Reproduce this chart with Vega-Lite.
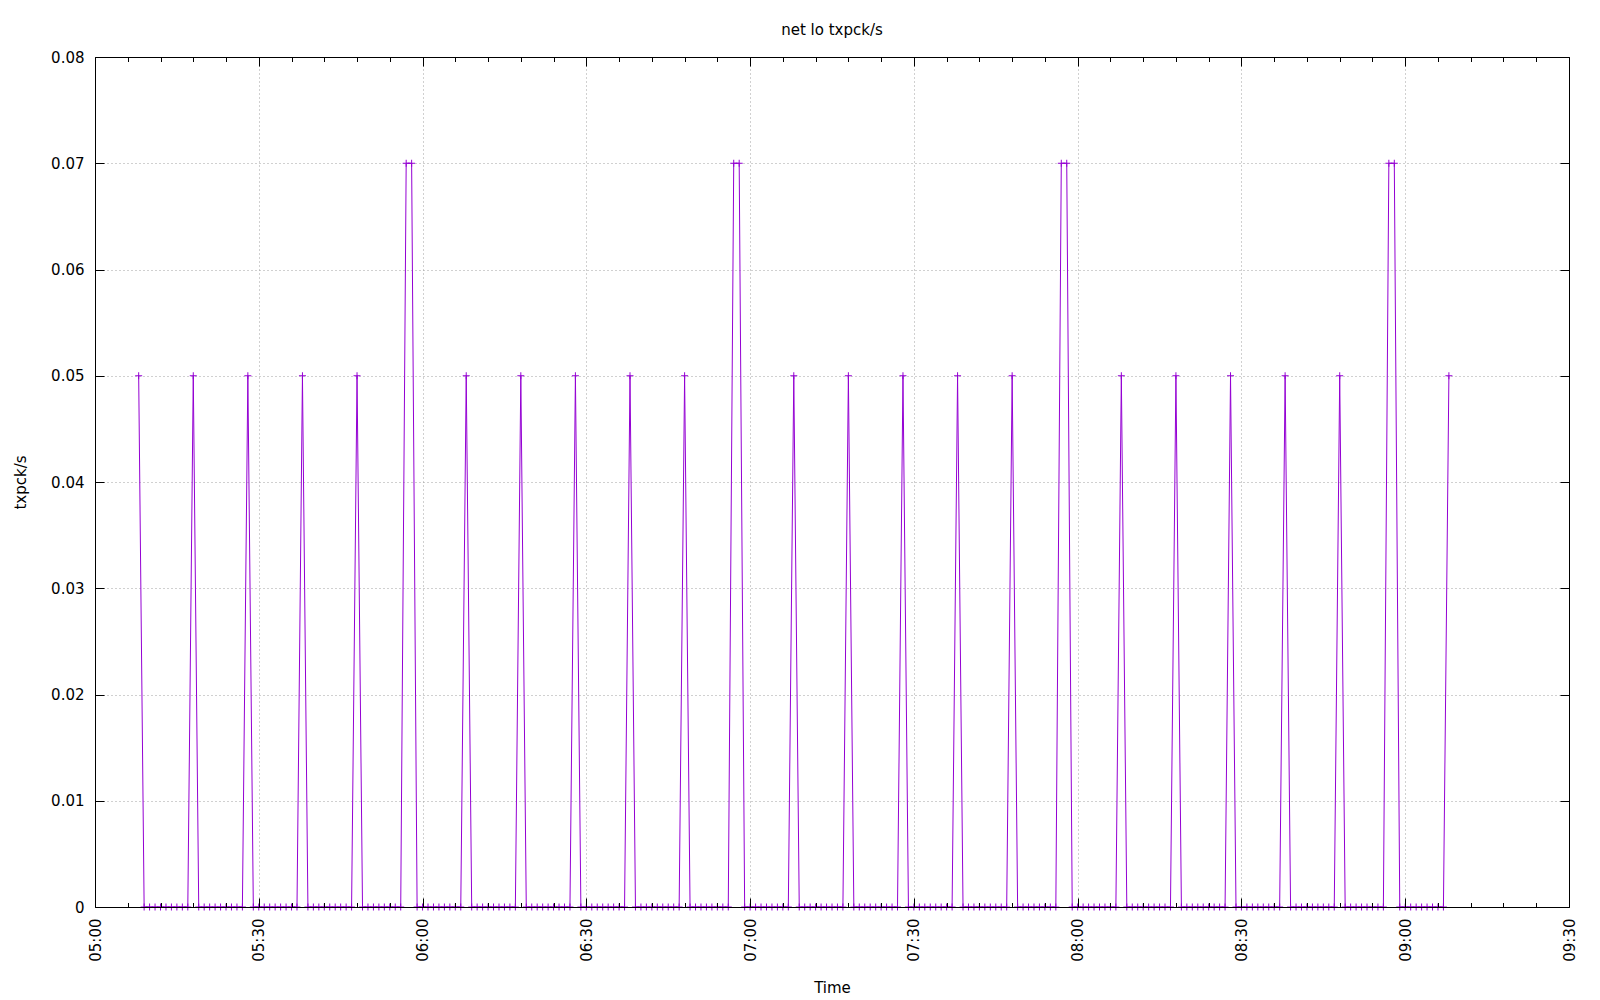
{
  "width": 1474,
  "height": 850,
  "autosize": {"type": "none"},
  "padding": {"left": 95, "top": 57, "right": 31, "bottom": 93},
  "config": {
    "view": {"stroke": "transparent"},
    "axis": {"labelFont": "DejaVu Sans", "titleFont": "DejaVu Sans", "labelColor": "black", "titleColor": "black", "labelFontSize": 15, "titleFontSize": 15, "titleFontWeight": "normal"}
  },
  "title": {"text": "net lo txpck/s", "font": "DejaVu Sans", "fontSize": 15, "fontWeight": "normal", "color": "black", "offset": 12},
  "data": {
    "values": [
      {"t":"2024-01-01T05:08:00Z","v":0.05},{"t":"2024-01-01T05:09:00Z","v":0},{"t":"2024-01-01T05:10:00Z","v":0},{"t":"2024-01-01T05:11:00Z","v":0},{"t":"2024-01-01T05:12:00Z","v":0},{"t":"2024-01-01T05:13:00Z","v":0},{"t":"2024-01-01T05:14:00Z","v":0},{"t":"2024-01-01T05:15:00Z","v":0},{"t":"2024-01-01T05:16:00Z","v":0},{"t":"2024-01-01T05:17:00Z","v":0},
      {"t":"2024-01-01T05:18:00Z","v":0.05},{"t":"2024-01-01T05:19:00Z","v":0},{"t":"2024-01-01T05:20:00Z","v":0},{"t":"2024-01-01T05:21:00Z","v":0},{"t":"2024-01-01T05:22:00Z","v":0},{"t":"2024-01-01T05:23:00Z","v":0},{"t":"2024-01-01T05:24:00Z","v":0},{"t":"2024-01-01T05:25:00Z","v":0},{"t":"2024-01-01T05:26:00Z","v":0},{"t":"2024-01-01T05:27:00Z","v":0},
      {"t":"2024-01-01T05:28:00Z","v":0.05},{"t":"2024-01-01T05:29:00Z","v":0},{"t":"2024-01-01T05:30:00Z","v":0},{"t":"2024-01-01T05:31:00Z","v":0},{"t":"2024-01-01T05:32:00Z","v":0},{"t":"2024-01-01T05:33:00Z","v":0},{"t":"2024-01-01T05:34:00Z","v":0},{"t":"2024-01-01T05:35:00Z","v":0},{"t":"2024-01-01T05:36:00Z","v":0},{"t":"2024-01-01T05:37:00Z","v":0},
      {"t":"2024-01-01T05:38:00Z","v":0.05},{"t":"2024-01-01T05:39:00Z","v":0},{"t":"2024-01-01T05:40:00Z","v":0},{"t":"2024-01-01T05:41:00Z","v":0},{"t":"2024-01-01T05:42:00Z","v":0},{"t":"2024-01-01T05:43:00Z","v":0},{"t":"2024-01-01T05:44:00Z","v":0},{"t":"2024-01-01T05:45:00Z","v":0},{"t":"2024-01-01T05:46:00Z","v":0},{"t":"2024-01-01T05:47:00Z","v":0},
      {"t":"2024-01-01T05:48:00Z","v":0.05},{"t":"2024-01-01T05:49:00Z","v":0},{"t":"2024-01-01T05:50:00Z","v":0},{"t":"2024-01-01T05:51:00Z","v":0},{"t":"2024-01-01T05:52:00Z","v":0},{"t":"2024-01-01T05:53:00Z","v":0},{"t":"2024-01-01T05:54:00Z","v":0},{"t":"2024-01-01T05:55:00Z","v":0},{"t":"2024-01-01T05:56:00Z","v":0},
      {"t":"2024-01-01T05:57:00Z","v":0.07},{"t":"2024-01-01T05:58:00Z","v":0.07},{"t":"2024-01-01T05:59:00Z","v":0},
      {"t":"2024-01-01T06:00:00Z","v":0},{"t":"2024-01-01T06:01:00Z","v":0},{"t":"2024-01-01T06:02:00Z","v":0},{"t":"2024-01-01T06:03:00Z","v":0},{"t":"2024-01-01T06:04:00Z","v":0},{"t":"2024-01-01T06:05:00Z","v":0},{"t":"2024-01-01T06:06:00Z","v":0},{"t":"2024-01-01T06:07:00Z","v":0},
      {"t":"2024-01-01T06:08:00Z","v":0.05},{"t":"2024-01-01T06:09:00Z","v":0},{"t":"2024-01-01T06:10:00Z","v":0},{"t":"2024-01-01T06:11:00Z","v":0},{"t":"2024-01-01T06:12:00Z","v":0},{"t":"2024-01-01T06:13:00Z","v":0},{"t":"2024-01-01T06:14:00Z","v":0},{"t":"2024-01-01T06:15:00Z","v":0},{"t":"2024-01-01T06:16:00Z","v":0},{"t":"2024-01-01T06:17:00Z","v":0},
      {"t":"2024-01-01T06:18:00Z","v":0.05},{"t":"2024-01-01T06:19:00Z","v":0},{"t":"2024-01-01T06:20:00Z","v":0},{"t":"2024-01-01T06:21:00Z","v":0},{"t":"2024-01-01T06:22:00Z","v":0},{"t":"2024-01-01T06:23:00Z","v":0},{"t":"2024-01-01T06:24:00Z","v":0},{"t":"2024-01-01T06:25:00Z","v":0},{"t":"2024-01-01T06:26:00Z","v":0},{"t":"2024-01-01T06:27:00Z","v":0},
      {"t":"2024-01-01T06:28:00Z","v":0.05},{"t":"2024-01-01T06:29:00Z","v":0},{"t":"2024-01-01T06:30:00Z","v":0},{"t":"2024-01-01T06:31:00Z","v":0},{"t":"2024-01-01T06:32:00Z","v":0},{"t":"2024-01-01T06:33:00Z","v":0},{"t":"2024-01-01T06:34:00Z","v":0},{"t":"2024-01-01T06:35:00Z","v":0},{"t":"2024-01-01T06:36:00Z","v":0},{"t":"2024-01-01T06:37:00Z","v":0},
      {"t":"2024-01-01T06:38:00Z","v":0.05},{"t":"2024-01-01T06:39:00Z","v":0},{"t":"2024-01-01T06:40:00Z","v":0},{"t":"2024-01-01T06:41:00Z","v":0},{"t":"2024-01-01T06:42:00Z","v":0},{"t":"2024-01-01T06:43:00Z","v":0},{"t":"2024-01-01T06:44:00Z","v":0},{"t":"2024-01-01T06:45:00Z","v":0},{"t":"2024-01-01T06:46:00Z","v":0},{"t":"2024-01-01T06:47:00Z","v":0},
      {"t":"2024-01-01T06:48:00Z","v":0.05},{"t":"2024-01-01T06:49:00Z","v":0},{"t":"2024-01-01T06:50:00Z","v":0},{"t":"2024-01-01T06:51:00Z","v":0},{"t":"2024-01-01T06:52:00Z","v":0},{"t":"2024-01-01T06:53:00Z","v":0},{"t":"2024-01-01T06:54:00Z","v":0},{"t":"2024-01-01T06:55:00Z","v":0},{"t":"2024-01-01T06:56:00Z","v":0},
      {"t":"2024-01-01T06:57:00Z","v":0.07},{"t":"2024-01-01T06:58:00Z","v":0.07},{"t":"2024-01-01T06:59:00Z","v":0},
      {"t":"2024-01-01T07:00:00Z","v":0},{"t":"2024-01-01T07:01:00Z","v":0},{"t":"2024-01-01T07:02:00Z","v":0},{"t":"2024-01-01T07:03:00Z","v":0},{"t":"2024-01-01T07:04:00Z","v":0},{"t":"2024-01-01T07:05:00Z","v":0},{"t":"2024-01-01T07:06:00Z","v":0},{"t":"2024-01-01T07:07:00Z","v":0},
      {"t":"2024-01-01T07:08:00Z","v":0.05},{"t":"2024-01-01T07:09:00Z","v":0},{"t":"2024-01-01T07:10:00Z","v":0},{"t":"2024-01-01T07:11:00Z","v":0},{"t":"2024-01-01T07:12:00Z","v":0},{"t":"2024-01-01T07:13:00Z","v":0},{"t":"2024-01-01T07:14:00Z","v":0},{"t":"2024-01-01T07:15:00Z","v":0},{"t":"2024-01-01T07:16:00Z","v":0},{"t":"2024-01-01T07:17:00Z","v":0},
      {"t":"2024-01-01T07:18:00Z","v":0.05},{"t":"2024-01-01T07:19:00Z","v":0},{"t":"2024-01-01T07:20:00Z","v":0},{"t":"2024-01-01T07:21:00Z","v":0},{"t":"2024-01-01T07:22:00Z","v":0},{"t":"2024-01-01T07:23:00Z","v":0},{"t":"2024-01-01T07:24:00Z","v":0},{"t":"2024-01-01T07:25:00Z","v":0},{"t":"2024-01-01T07:26:00Z","v":0},{"t":"2024-01-01T07:27:00Z","v":0},
      {"t":"2024-01-01T07:28:00Z","v":0.05},{"t":"2024-01-01T07:29:00Z","v":0},{"t":"2024-01-01T07:30:00Z","v":0},{"t":"2024-01-01T07:31:00Z","v":0},{"t":"2024-01-01T07:32:00Z","v":0},{"t":"2024-01-01T07:33:00Z","v":0},{"t":"2024-01-01T07:34:00Z","v":0},{"t":"2024-01-01T07:35:00Z","v":0},{"t":"2024-01-01T07:36:00Z","v":0},{"t":"2024-01-01T07:37:00Z","v":0},
      {"t":"2024-01-01T07:38:00Z","v":0.05},{"t":"2024-01-01T07:39:00Z","v":0},{"t":"2024-01-01T07:40:00Z","v":0},{"t":"2024-01-01T07:41:00Z","v":0},{"t":"2024-01-01T07:42:00Z","v":0},{"t":"2024-01-01T07:43:00Z","v":0},{"t":"2024-01-01T07:44:00Z","v":0},{"t":"2024-01-01T07:45:00Z","v":0},{"t":"2024-01-01T07:46:00Z","v":0},{"t":"2024-01-01T07:47:00Z","v":0},
      {"t":"2024-01-01T07:48:00Z","v":0.05},{"t":"2024-01-01T07:49:00Z","v":0},{"t":"2024-01-01T07:50:00Z","v":0},{"t":"2024-01-01T07:51:00Z","v":0},{"t":"2024-01-01T07:52:00Z","v":0},{"t":"2024-01-01T07:53:00Z","v":0},{"t":"2024-01-01T07:54:00Z","v":0},{"t":"2024-01-01T07:55:00Z","v":0},{"t":"2024-01-01T07:56:00Z","v":0},
      {"t":"2024-01-01T07:57:00Z","v":0.07},{"t":"2024-01-01T07:58:00Z","v":0.07},{"t":"2024-01-01T07:59:00Z","v":0},
      {"t":"2024-01-01T08:00:00Z","v":0},{"t":"2024-01-01T08:01:00Z","v":0},{"t":"2024-01-01T08:02:00Z","v":0},{"t":"2024-01-01T08:03:00Z","v":0},{"t":"2024-01-01T08:04:00Z","v":0},{"t":"2024-01-01T08:05:00Z","v":0},{"t":"2024-01-01T08:06:00Z","v":0},{"t":"2024-01-01T08:07:00Z","v":0},
      {"t":"2024-01-01T08:08:00Z","v":0.05},{"t":"2024-01-01T08:09:00Z","v":0},{"t":"2024-01-01T08:10:00Z","v":0},{"t":"2024-01-01T08:11:00Z","v":0},{"t":"2024-01-01T08:12:00Z","v":0},{"t":"2024-01-01T08:13:00Z","v":0},{"t":"2024-01-01T08:14:00Z","v":0},{"t":"2024-01-01T08:15:00Z","v":0},{"t":"2024-01-01T08:16:00Z","v":0},{"t":"2024-01-01T08:17:00Z","v":0},
      {"t":"2024-01-01T08:18:00Z","v":0.05},{"t":"2024-01-01T08:19:00Z","v":0},{"t":"2024-01-01T08:20:00Z","v":0},{"t":"2024-01-01T08:21:00Z","v":0},{"t":"2024-01-01T08:22:00Z","v":0},{"t":"2024-01-01T08:23:00Z","v":0},{"t":"2024-01-01T08:24:00Z","v":0},{"t":"2024-01-01T08:25:00Z","v":0},{"t":"2024-01-01T08:26:00Z","v":0},{"t":"2024-01-01T08:27:00Z","v":0},
      {"t":"2024-01-01T08:28:00Z","v":0.05},{"t":"2024-01-01T08:29:00Z","v":0},{"t":"2024-01-01T08:30:00Z","v":0},{"t":"2024-01-01T08:31:00Z","v":0},{"t":"2024-01-01T08:32:00Z","v":0},{"t":"2024-01-01T08:33:00Z","v":0},{"t":"2024-01-01T08:34:00Z","v":0},{"t":"2024-01-01T08:35:00Z","v":0},{"t":"2024-01-01T08:36:00Z","v":0},{"t":"2024-01-01T08:37:00Z","v":0},
      {"t":"2024-01-01T08:38:00Z","v":0.05},{"t":"2024-01-01T08:39:00Z","v":0},{"t":"2024-01-01T08:40:00Z","v":0},{"t":"2024-01-01T08:41:00Z","v":0},{"t":"2024-01-01T08:42:00Z","v":0},{"t":"2024-01-01T08:43:00Z","v":0},{"t":"2024-01-01T08:44:00Z","v":0},{"t":"2024-01-01T08:45:00Z","v":0},{"t":"2024-01-01T08:46:00Z","v":0},{"t":"2024-01-01T08:47:00Z","v":0},
      {"t":"2024-01-01T08:48:00Z","v":0.05},{"t":"2024-01-01T08:49:00Z","v":0},{"t":"2024-01-01T08:50:00Z","v":0},{"t":"2024-01-01T08:51:00Z","v":0},{"t":"2024-01-01T08:52:00Z","v":0},{"t":"2024-01-01T08:53:00Z","v":0},{"t":"2024-01-01T08:54:00Z","v":0},{"t":"2024-01-01T08:55:00Z","v":0},{"t":"2024-01-01T08:56:00Z","v":0},
      {"t":"2024-01-01T08:57:00Z","v":0.07},{"t":"2024-01-01T08:58:00Z","v":0.07},{"t":"2024-01-01T08:59:00Z","v":0},
      {"t":"2024-01-01T09:00:00Z","v":0},{"t":"2024-01-01T09:01:00Z","v":0},{"t":"2024-01-01T09:02:00Z","v":0},{"t":"2024-01-01T09:03:00Z","v":0},{"t":"2024-01-01T09:04:00Z","v":0},{"t":"2024-01-01T09:05:00Z","v":0},{"t":"2024-01-01T09:06:00Z","v":0},{"t":"2024-01-01T09:07:00Z","v":0},
      {"t":"2024-01-01T09:08:00Z","v":0.05}
    ]
  },
  "layer": [
    {
      "mark": {"type": "line", "color": "#9400d3", "strokeWidth": 1},
      "encoding": {
        "x": {
          "field": "t", "type": "temporal",
          "scale": {"type": "utc", "domain": [1704085200000, 1704101400000], "nice": false},
          "axis": {"orient": "bottom", "format": "%H:%M", "labelAngle": 270, "values": [1704085200000, 1704087000000, 1704088800000, 1704090600000, 1704092400000, 1704094200000, 1704096000000, 1704097800000, 1704099600000, 1704101400000], "ticks": false, "domain": false, "grid": true, "gridColor": "#a0a0a0", "gridDash": [1, 3], "labelPadding": 11, "labelFlush": false, "labelOverlap": false, "title": "Time", "titleY": 85, "titleBaseline": "alphabetic"}
        },
        "y": {
          "field": "v", "type": "quantitative",
          "scale": {"domain": [0, 0.08], "nice": false},
          "axis": {"orient": "left", "values": [0, 0.01, 0.02, 0.03, 0.04, 0.05, 0.06, 0.07, 0.08], "format": ".2~f", "ticks": false, "domain": false, "grid": true, "gridColor": "#a0a0a0", "gridDash": [1, 3], "labelPadding": 11, "labelFlush": false, "labelOverlap": false, "title": "txpck/s", "titleX": -75, "titleY": 425, "titleAngle": 270, "titleAlign": "center", "titleBaseline": "middle"}
        }
      }
    },
    {
      "mark": {"type": "point", "shape": "M-1,0L1,0M0,-1L0,1", "size": 49, "filled": false, "color": "#9400d3", "strokeWidth": 1, "opacity": 1},
      "encoding": {
        "x": {
          "field": "t", "type": "temporal",
          "axis": {"orient": "top", "labels": false, "title": null, "grid": false, "values": [1704085200000, 1704087000000, 1704088800000, 1704090600000, 1704092400000, 1704094200000, 1704096000000, 1704097800000, 1704099600000, 1704101400000], "tickColor": "black", "tickSize": -9, "domain": true, "domainColor": "black", "zindex": 1}
        },
        "y": {
          "field": "v", "type": "quantitative",
          "axis": {"orient": "right", "labels": false, "title": null, "grid": false, "values": [0, 0.01, 0.02, 0.03, 0.04, 0.05, 0.06, 0.07, 0.08], "tickColor": "black", "tickSize": -9, "domain": true, "domainColor": "black", "zindex": 1}
        }
      }
    },
    {
      "mark": {"type": "point", "size": 1, "opacity": 0},
      "encoding": {
        "x": {
          "field": "t", "type": "temporal",
          "axis": {"orient": "bottom", "labels": false, "title": null, "grid": false, "values": [1704085200000, 1704087000000, 1704088800000, 1704090600000, 1704092400000, 1704094200000, 1704096000000, 1704097800000, 1704099600000, 1704101400000], "tickColor": "black", "tickSize": -9, "domain": true, "domainColor": "black", "zindex": 1}
        },
        "y": {
          "field": "v", "type": "quantitative",
          "axis": {"orient": "left", "labels": false, "title": null, "grid": false, "values": [0, 0.01, 0.02, 0.03, 0.04, 0.05, 0.06, 0.07, 0.08], "tickColor": "black", "tickSize": -9, "domain": true, "domainColor": "black", "zindex": 1}
        }
      }
    },
    {
      "mark": {"type": "point", "size": 1, "opacity": 0},
      "encoding": {
        "x": {
          "field": "t", "type": "temporal",
          "axis": {"orient": "top", "labels": false, "title": null, "grid": false, "domain": false, "values": [1704085560000, 1704085920000, 1704086280000, 1704086640000, 1704087360000, 1704087720000, 1704088080000, 1704088440000, 1704089160000, 1704089520000, 1704089880000, 1704090240000, 1704090960000, 1704091320000, 1704091680000, 1704092040000, 1704092760000, 1704093120000, 1704093480000, 1704093840000, 1704094560000, 1704094920000, 1704095280000, 1704095640000, 1704096360000, 1704096720000, 1704097080000, 1704097440000, 1704098160000, 1704098520000, 1704098880000, 1704099240000, 1704099960000, 1704100320000, 1704100680000, 1704101040000], "tickColor": "black", "tickSize": -4.5, "zindex": 1}
        },
        "y": {"field": "v", "type": "quantitative", "axis": null}
      }
    },
    {
      "mark": {"type": "point", "size": 1, "opacity": 0},
      "encoding": {
        "x": {
          "field": "t", "type": "temporal",
          "axis": {"orient": "bottom", "labels": false, "title": null, "grid": false, "domain": false, "values": [1704085560000, 1704085920000, 1704086280000, 1704086640000, 1704087360000, 1704087720000, 1704088080000, 1704088440000, 1704089160000, 1704089520000, 1704089880000, 1704090240000, 1704090960000, 1704091320000, 1704091680000, 1704092040000, 1704092760000, 1704093120000, 1704093480000, 1704093840000, 1704094560000, 1704094920000, 1704095280000, 1704095640000, 1704096360000, 1704096720000, 1704097080000, 1704097440000, 1704098160000, 1704098520000, 1704098880000, 1704099240000, 1704099960000, 1704100320000, 1704100680000, 1704101040000], "tickColor": "black", "tickSize": -4.5, "zindex": 1}
        },
        "y": {"field": "v", "type": "quantitative", "axis": null}
      }
    }
  ],
  "resolve": {"axis": {"x": "independent", "y": "independent"}}
}
